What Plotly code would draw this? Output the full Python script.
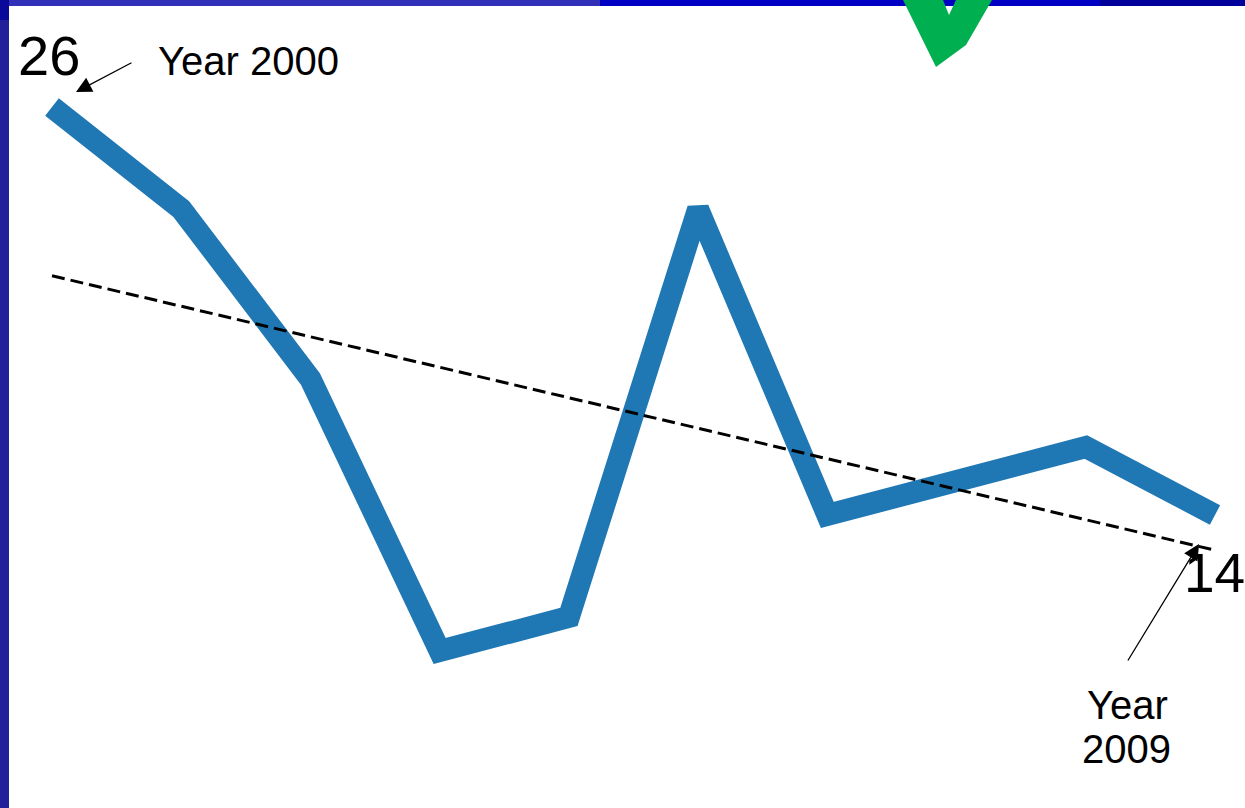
import numpy as np
import plotly.graph_objects as go

years = [2000, 2001, 2002, 2003, 2004, 2005, 2006, 2007, 2008, 2009]
values = [26, 23, 18, 10, 11, 23, 14, 15, 16, 14]

W, H = 1245, 808
ML, MT = 9, 6
PW, PH = W - ML, H - MT


def px(x):
    return (x - ML) / PW


def py(y):
    return 1 - (y - MT) / PH


slope, intercept = np.polyfit(years, values, 1)
trend = [slope * yr + intercept for yr in years]

fig = go.Figure()
fig.add_trace(go.Scatter(x=years, y=values, mode="lines",
                         line=dict(color="#1f77b4", width=22), hoverinfo="skip"))
fig.add_trace(go.Scatter(x=years, y=trend, mode="lines",
                         line=dict(color="black", width=3, dash="13px,6px"), hoverinfo="skip"))

# checkmark
pts = [(903, 0), (936, 67), (966, 45), (992, 0), (956, 0), (949, 15), (943, 0)]
path = "M " + " L ".join(f"{px(a):.5f},{py(b):.5f}" for a, b in pts) + " Z"

shapes = [
    dict(type="rect", xref="paper", yref="paper", x0=px(0), x1=px(600), y0=py(6), y1=py(0),
         fillcolor="#3230b8", line=dict(width=0)),
    dict(type="rect", xref="paper", yref="paper", x0=px(600), x1=px(1100), y0=py(6), y1=py(0),
         fillcolor="#0000c4", line=dict(width=0)),
    dict(type="rect", xref="paper", yref="paper", x0=px(1100), x1=px(1245), y0=py(6), y1=py(0),
         fillcolor="#00009a", line=dict(width=0)),
    dict(type="rect", xref="paper", yref="paper", x0=px(0), x1=px(9), y0=py(20), y1=py(0),
         fillcolor="#0a0a9a", line=dict(width=0)),
    dict(type="path", xref="paper", yref="paper", path=path,
         fillcolor="#00b050", line=dict(width=0)),
]

font = "Liberation Sans, Arial, sans-serif"
annotations = [
    dict(xref="paper", yref="paper", x=px(16), y=py(55), text="26", showarrow=False,
         xanchor="left", yanchor="middle", font=dict(family=font, size=56, color="black")),
    dict(xref="paper", yref="paper", x=px(156), y=py(61), text="Year 2000", showarrow=False,
         xanchor="left", yanchor="middle", font=dict(family=font, size=40, color="black")),
    dict(xref="paper", yref="paper", x=px(1247), y=py(573), text="14", showarrow=False,
         xanchor="right", yanchor="middle", font=dict(family=font, size=55, color="black")),
    dict(xref="paper", yref="paper", x=px(1127), y=py(705), text="Year", showarrow=False,
         xanchor="center", yanchor="middle", font=dict(family=font, size=40, color="black")),
    dict(xref="paper", yref="paper", x=px(1126), y=py(749), text="2009", showarrow=False,
         xanchor="center", yanchor="middle", font=dict(family=font, size=40, color="black")),
    dict(xref="paper", yref="paper", x=px(76), y=py(92), text="", showarrow=True,
         ax=133 - 76, ay=62 - 92, arrowhead=2, arrowsize=2.4, arrowwidth=1.3, arrowcolor="black"),
    dict(xref="paper", yref="paper", x=px(1199), y=py(544), text="", showarrow=True,
         ax=1127 - 1199, ay=662 - 544, arrowhead=2, arrowsize=2.4, arrowwidth=1.3, arrowcolor="black"),
]

x0 = 2000 - (52 - ML) / ((1215 - 52) / 9)
x1 = 2009 + (W - 1215) / ((1215 - 52) / 9)
ppu = 34.0
y1 = 26 + (107 - MT) / ppu
y0 = 26 - (H - 107) / ppu

fig.update_layout(
    width=W, height=H,
    margin=dict(l=ML, r=0, t=MT, b=0),
    paper_bgcolor="#23219a",
    plot_bgcolor="white",
    showlegend=False,
    xaxis=dict(range=[x0, x1], visible=False, fixedrange=True),
    yaxis=dict(range=[y0, y1], visible=False, fixedrange=True),
    shapes=shapes,
    annotations=annotations,
)

fig.write_html("out.html")
